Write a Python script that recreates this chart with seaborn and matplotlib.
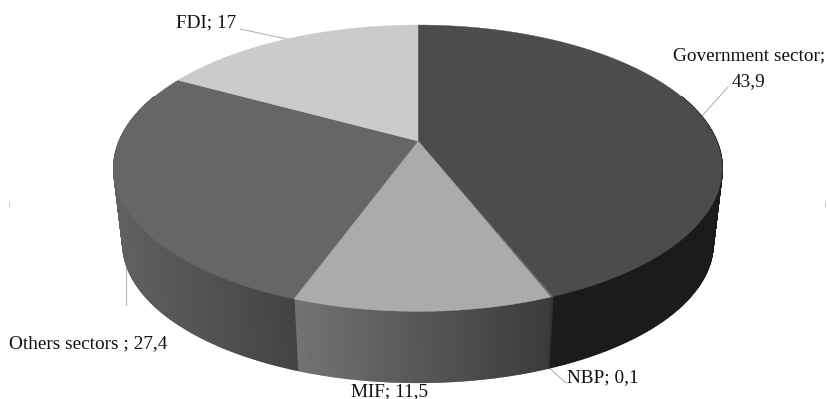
import numpy as np
import matplotlib
matplotlib.use("Agg")
import matplotlib.pyplot as plt
import seaborn as sns

# Sector shares, clockwise from twelve o'clock
sectors = ["Government sector", "NBP", "MIF", "Others sectors", "FDI"]
shares = [43.9, 0.1, 11.5, 27.4, 17.0]
share_text = ["43,9", "0,1", "11,5", "27,4", "17"]

# Shading of each sector: top face, wall at its left and right end on screen
top_colors = ["#4c4c4c", "#6a6a6a", "#ababab", "#666666", "#cbcbcb"]
wall_left = ["#1b1b1b", "#333333", "#727272", "#606060", "#bdbdbd"]
wall_right = ["#1b1b1b", "#333333", "#3a3a3a", "#434343", "#bdbdbd"]

sns.set_theme(style="white")
plt.rcParams["font.family"] = ["Liberation Serif", "DejaVu Serif"]

# Perspective disc: centre, half axes, foreshortening, wall offset and scale
CX, CY = 418.0, 141.0
AX, BY, PERSP = 298.6, 138.0, 0.19
WALL_CY, WALL_SCALE = 217.0, 0.97


def rim(theta, cy=CY, scale=1.0):
    u, v = np.sin(theta), np.cos(theta)
    w = 1 + PERSP * v
    return CX + scale * AX * u / w, cy - scale * BY * v / w


fig = plt.figure(figsize=(8.28, 3.99), dpi=100)
ax = fig.add_axes([0, 0, 1, 1])
ax.set_xlim(0, 828)
ax.set_ylim(399, 0)
ax.axis("off")

edges = np.deg2rad(np.concatenate([[0], np.cumsum(shares) / np.sum(shares) * 360]))

# Leader lines sit under the disc
leaders = [
    ([240, 287], [29, 39]),
    ([728, 702], [87, 116]),
    ([566, 547], [383, 366]),
    ([126, 126], [260, 305]),
]
for xs, ys in leaders:
    ax.plot(xs, ys, color="#b5b5b5", lw=0.8, zorder=1)

# Two faint plot-area ticks at the far left and right
for x_tick in (9.5, 825.5):
    ax.plot([x_tick, x_tick], [202, 207], color="#cfcfcf", lw=0.8, zorder=1)

# Walls, back to front
for i in range(len(shares)):
    a0, a1 = max(edges[i], np.deg2rad(70)), min(edges[i + 1], np.deg2rad(290))
    if a1 <= a0:
        continue
    n = max(2, int(np.degrees(a1 - a0) * 2))
    th = np.linspace(a0, a1, n + 1)
    xt, yt = rim(th)
    xb, yb = rim(th, WALL_CY, WALL_SCALE)
    ramp = sns.blend_palette([wall_left[i], wall_right[i]], 64)
    lo, hi = xt.min(), xt.max()
    for j in range(n):
        mid = (xt[j] + xt[j + 1]) / 2
        c = ramp[int((mid - lo) / max(hi - lo, 1e-6) * 63)]
        ax.fill([xt[j], xt[j + 1], xb[j + 1], xb[j]],
                [yt[j], yt[j + 1], yb[j + 1], yb[j]],
                color=c, lw=1.2, zorder=2)

# Top faces
for i in range(len(shares)):
    th = np.linspace(edges[i], edges[i + 1], 200)
    xt, yt = rim(th)
    ax.fill(np.r_[CX, xt], np.r_[CY, yt], color=top_colors[i], lw=0.3, zorder=3)

# Labels
label_style = dict(fontsize=13.9, color="#111111", zorder=4, va="center")
ax.text(749, 56, f"{sectors[0]};", ha="center", **label_style)
ax.text(749, 82, share_text[0], ha="center", **label_style)
ax.text(567, 378, f"{sectors[1]}; {share_text[1]}", ha="left", **label_style)
ax.text(390, 392, f"{sectors[2]}; {share_text[2]}", ha="center", **label_style)
ax.text(9, 343.5, f"{sectors[3]} ; {share_text[3]}", ha="left", **label_style)
ax.text(176, 23, f"{sectors[4]}; {share_text[4]}", ha="left", **label_style)

fig.savefig("out.png", dpi=100, facecolor="white")
